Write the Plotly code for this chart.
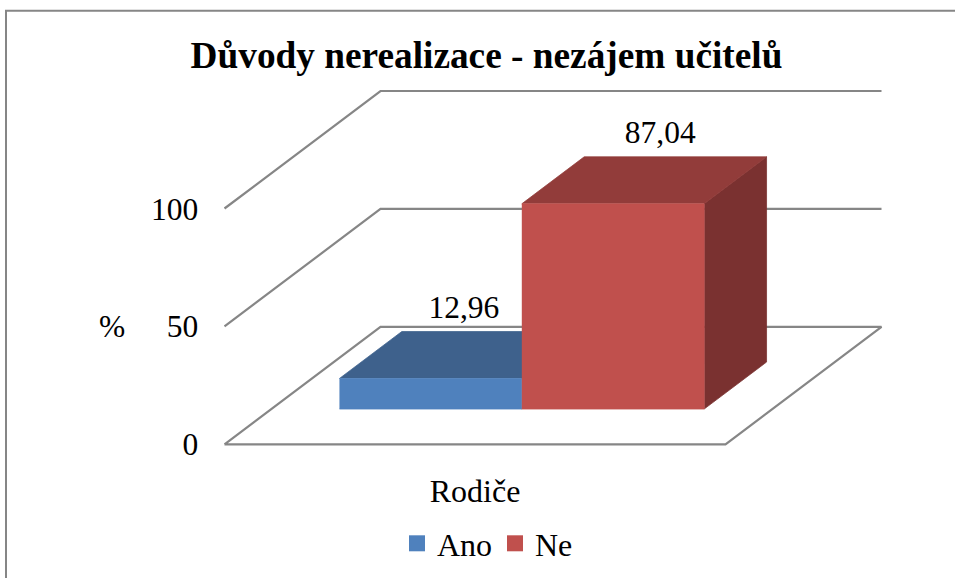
import plotly.graph_objects as go

# --- data ---
categories = ["Rodiče"]
series_names = ["Ano", "Ne"]
series_values = [12.96, 87.04]
value_ticks = [0, 50, 100]
title_text = "Důvody nerealizace - nezájem učitelů"
axis_title = "%"

# --- colours per series: front, top, side ---
front_colors = ["#4F81BD", "#C0504D"]
top_colors = ["#3E618C", "#923C3A"]
side_colors = ["#35547A", "#7A3130"]
grid_color = "#868686"

W, H = 955, 578
FLOOR_X0, FLOOR_Y0 = 224.5, 444.3   # pixel of (category 0, value 0, depth 0)
PX_PER_CAT = 501.0
PX_PER_VAL = 2.358
DEPTH_PX_X, DEPTH_PX_Y = 156.0, 117.5

x_range = [-FLOOR_X0 / PX_PER_CAT, (W - FLOOR_X0) / PX_PER_CAT]
y_range = [(FLOOR_Y0 - H) / PX_PER_VAL, FLOOR_Y0 / PX_PER_VAL]


def proj(u, v, d):
    """Oblique projection of (category position, value, depth) into axis units."""
    return u + d * DEPTH_PX_X / PX_PER_CAT, v + d * DEPTH_PX_Y / PX_PER_VAL


def poly(points, color, line_color=None, name=None):
    pts = [proj(*p) for p in points]
    return go.Scatter(
        x=[p[0] for p in pts], y=[p[1] for p in pts],
        mode="lines", fill="toself", fillcolor=color,
        line=dict(color=line_color or color, width=0.75),
        showlegend=False, hoverinfo="skip",
    )


fig = go.Figure()

# walls and floor
for v in value_ticks[1:]:
    pts = [proj(0, v, 0), proj(0, v, 1), proj(1, v, 1)]
    fig.add_trace(go.Scatter(x=[p[0] for p in pts], y=[p[1] for p in pts], mode="lines",
                             line=dict(color=grid_color, width=2.2),
                             showlegend=False, hoverinfo="skip"))
pts = [proj(0, 0, 0), proj(0, 0, 1), proj(1, 0, 1), proj(1, 0, 0), proj(0, 0, 0)]
fig.add_trace(go.Scatter(x=[p[0] for p in pts], y=[p[1] for p in pts], mode="lines",
                         line=dict(color=grid_color, width=2.2),
                         showlegend=False, hoverinfo="skip"))

# 3-D bars
u_edges = [0.136, 0.5, 0.864]
d0, d1 = 0.3, 0.7
for i, v in enumerate(series_values):
    u0, u1 = u_edges[i], u_edges[i + 1]
    fig.add_trace(poly([(u1, 0, d0), (u1, 0, d1), (u1, v, d1), (u1, v, d0)], side_colors[i]))
    fig.add_trace(poly([(u0, v, d0), (u0, v, d1), (u1, v, d1), (u1, v, d0)], top_colors[i]))
    fig.add_trace(poly([(u0, 0, d0), (u1, 0, d0), (u1, v, d0), (u0, v, d0)], front_colors[i]))

# data labels
label_shift_u = [0.004, 0.032]
label_lift = 19.0
for i, v in enumerate(series_values):
    um = (u_edges[i] + u_edges[i + 1]) / 2 + label_shift_u[i]
    lx, ly = proj(um, v + label_lift, 0.5)
    fig.add_trace(go.Scatter(
        x=[lx], y=[ly], mode="text", text=[f"{v:.2f}".replace(".", ",")],
        textposition="middle center",
        textfont=dict(family="Liberation Serif", size=31.5, color="black"),
        showlegend=False, hoverinfo="skip", cliponaxis=False,
    ))

# legend entries
for i, name in enumerate(series_names):
    fig.add_trace(go.Scatter(
        x=[None], y=[None], mode="markers", name=name,
        marker=dict(symbol="square", size=16, color=front_colors[i]),
    ))

fig.update_layout(
    width=W, height=H, autosize=False,
    margin=dict(l=0, r=0, t=0, b=0),
    paper_bgcolor="white", plot_bgcolor="white",
    font=dict(family="Liberation Serif", size=32, color="black"),
    title=dict(text=f"<b>{title_text}</b>", x=486.5 / W, xanchor="center",
               y=1 - 55 / H, yanchor="middle",
               font=dict(family="Liberation Serif", size=37.3, color="black")),
    xaxis=dict(range=x_range, domain=[0, 1], tickmode="array", tickvals=[0.5], ticktext=categories,
               showgrid=False, zeroline=False, showline=False,
               ticks="outside", ticklen=18, tickcolor="rgba(0,0,0,0)",
               anchor="free", position=1 - FLOOR_Y0 / H,
               tickfont=dict(size=32)),
    yaxis=dict(range=y_range, domain=[0, 1], tickmode="array", tickvals=value_ticks,
               showgrid=False, zeroline=False, showline=False,
               ticks="outside", ticklen=20, tickcolor="rgba(0,0,0,0)",
               anchor="free", position=FLOOR_X0 / W,
               tickfont=dict(size=31.5)),
    legend=dict(orientation="h", x=397 / W, xanchor="left", y=1 - 543.5 / H, yanchor="middle",
                entrywidth=53, entrywidthmode="pixels",
                font=dict(size=32), bgcolor="rgba(0,0,0,0)", itemclick=False),
    showlegend=True,
    annotations=[dict(text=axis_title, xref="paper", yref="paper", x=112 / W, y=1 - 326 / H,
                      showarrow=False, font=dict(size=31.5), xanchor="center", yanchor="middle")],
    shapes=[dict(type="path", xref="paper", yref="paper",
                 path=f"M {6/W} 0 L {6/W} {1-10.7/H} L 1 {1-10.7/H}",
                 line=dict(color=grid_color, width=2))],
)

fig.write_html("out.html", config={"displayModeBar": False},
               post_script="document.body.style.margin='0';document.body.style.overflow='hidden';")
